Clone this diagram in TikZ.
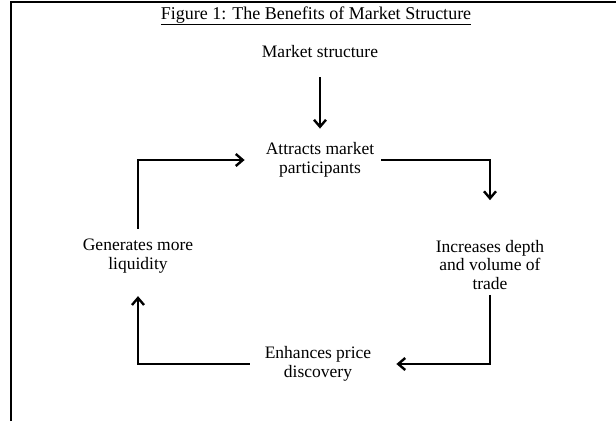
\documentclass[tikz,border=0pt]{standalone}
\usepackage{fontspec}
\setmainfont{Liberation Serif}
\usetikzlibrary{positioning}
\usetikzlibrary{arrows.meta}
\tikzset{
  stage/.style={align=center,inner sep=1pt,font=\fontsize{17.5}{18.5}\selectfont},
  flow/.style={-{Straight Barb[length=7pt,width=12pt,line width=2.4pt]},line width=1.8pt},
  frame/.style={line width=1.8pt},
}

\begin{document}
\begin{tikzpicture}[x=1pt,y=-1pt]
    \useasboundingbox (0,0) rectangle (616,421);
    \draw[frame] (11,421) -- (11,2) -- (616,2);
    \node[stage,font=\fontsize{18}{20}\selectfont] (title) at (316,16) {\underline{Figure 1: The Benefits of Market Structure}};
    \node[stage] (market) at (320,52) {Market structure};
    \node[stage] (attracts) at (320,160) {Attracts market\\participants};
    \node[stage] (depth) at (490,265) {Increases depth\\and volume of\\trade};
    \node[stage] (price) at (318,364) {Enhances price\\discovery};
    \node[stage] (liquid) at (138,256) {Generates more\\liquidity};
    \draw[flow,shorten <=18pt,shorten >=13pt] (market) -- (attracts);
    \draw[flow,shorten <=6pt,shorten >=39pt] (attracts.east) -| (depth.north);
    \draw[flow,shorten <=4pt,shorten >=24pt] (depth.south) |- (price.east);
    \draw[flow,shorten <=14pt,shorten >=22pt] (price.west) -| (liquid.south);
    \draw[flow,shorten <=9pt,shorten >=20pt] (liquid.north) |- (attracts.west);
  \end{tikzpicture}
\end{document}
